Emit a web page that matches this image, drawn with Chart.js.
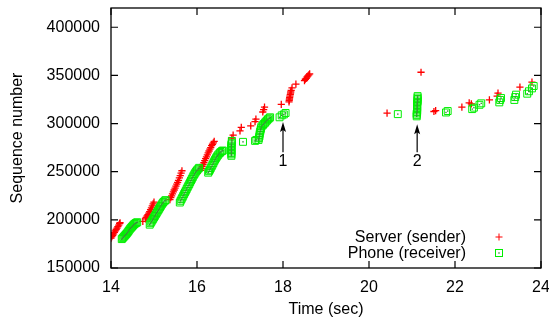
<!DOCTYPE html>
<html><head><meta charset="utf-8">
<script src="https://cdn.jsdelivr.net/npm/chart.js@4/dist/chart.umd.min.js"></script>
<style>html,body{margin:0;padding:0;background:#fff}</style>
</head><body>
<canvas id="c" width="549" height="322"></canvas>
<script>
// ---- data ----
const serverT = [14.00,14.02,14.04,14.06,14.08,14.10,14.12,14.14,14.16,14.18,14.20,14.21,
  14.74,14.80,14.82,14.84,14.86,14.88,14.90,14.92,14.94,14.96,14.98,15.00,
  15.37,15.39,15.41,15.43,15.45,15.47,15.49,15.51,15.53,15.55,15.57,15.59,15.61,15.63,15.65,
  16.08,16.10,16.12,16.14,16.16,16.18,16.20,16.22,16.24,16.26,16.28,16.30,16.32,16.34,16.36,16.38,16.40,
  16.81,16.84,17.00,17.03,
  17.25,17.35,17.37,
  17.53,17.55,17.57,
  17.96,
  18.14,18.145,18.15,18.155,18.16,18.17,18.175,18.18,18.19,18.21,
  18.30,
  18.50,18.52,18.54,18.56,18.58,18.60,18.62,
  20.42,21.21,21.51,21.55,22.16,22.33,22.38,22.80,22.98,23.00,23.51,23.79];
const serverS = [181000,182500,184000,185500,187000,188500,190000,191500,193000,194500,196000,197000,
  198500,201000,202500,204000,205500,207000,208500,210500,212500,214500,216500,218500,
  221000,223000,225000,227000,229000,231000,233000,235000,237000,239000,241000,243500,246000,248500,251000,
  251500,253500,255500,257500,259500,261500,263500,265500,267500,269500,271500,273500,275000,277000,278500,280000,281500,
  285000,288000,292500,296000,
  297500,302000,304500,
  312000,314500,317000,
  320000,
  322500,324000,325500,327000,328500,330000,331500,333000,334500,337000,
  341000,
  344500,346000,347000,348500,349500,350500,351500,
  310800,353300,312500,313500,317000,321500,320500,324500,328500,331500,337800,343000];

const phoneT = [14.25,14.27,14.29,14.31,14.33,14.35,14.37,14.39,14.41,14.43,14.45,14.47,14.49,14.51,14.53,14.55,14.57,14.59,14.61,
  14.90,14.92,14.94,14.96,14.98,15.00,15.02,15.04,15.06,15.08,15.10,15.12,15.14,15.16,15.18,15.20,15.22,15.25,15.27,
  15.60,15.62,15.64,15.66,15.68,15.70,15.72,15.74,15.76,15.78,15.80,15.82,15.84,15.86,15.88,15.90,15.92,15.94,15.96,15.98,16.00,16.03,16.05,
  16.26,16.28,16.30,16.32,16.34,16.36,16.38,16.40,16.42,16.44,16.46,16.48,16.50,16.53,16.55,16.58,16.60,
  16.80,16.80,16.80,16.80,16.80,16.80,16.80,16.80,16.80,16.81,16.81,
  17.07,
  17.35,17.38,
  17.43,17.44,17.45,17.455,17.46,17.47,17.48,17.49,17.50,17.53,17.55,17.58,17.60,17.63,17.65,17.68,17.70,
  17.92,17.97,18.02,18.06,
  20.67,
  21.11,21.11,21.11,21.12,21.12,21.12,21.12,21.12,21.12,21.12,21.13,21.13,21.13,21.13,21.13,
  21.79,21.83,22.40,22.44,22.57,22.61,23.03,23.05,23.07,23.38,23.40,23.42,23.68,23.72,23.79,23.83];
const phoneS = [180000,181000,182000,183000,184000,185000,186000,187200,188500,189800,191000,192000,193000,194000,195000,195800,196500,197000,197500,
  195000,196500,198000,199500,201000,202500,204000,205500,207000,208500,210000,211500,213000,214500,216000,217300,218500,219800,220500,
  218000,219800,221500,223200,225000,226800,228500,230200,232000,233800,235500,237200,239000,240800,242500,244200,246000,247500,249000,250300,251500,253000,254000,
  249000,250500,252000,253800,255500,257200,259000,260800,262500,264000,265500,266800,268000,269500,270500,271500,272000,
  266500,268000,269500,271000,272500,274000,275500,277000,278500,280000,282000,
  281000,
  282000,283000,
  283000,284800,286500,288200,290000,291800,293500,295200,297000,298300,299500,300800,302000,303300,304500,305500,306500,
  306500,308500,309500,311000,
  309800,
  307500,309000,310500,312000,313500,315000,316500,318000,319500,321000,322500,324000,325500,327000,328500,
  311500,313000,315000,316500,319500,321000,322000,324500,326500,324500,327500,330000,331000,333500,336500,339000];

const xTickValues = [14,16,18,20,22,24];
const yTickValues = [150000,200000,250000,300000,350000,400000];
const xRange = [14,24];
const yRange = [150000,420000];

const arrowLabels = ['1','2'];
const arrowT = [18.0,21.12];
const arrowTipS = [301500,299400];
const arrowTailS = [270300,270300];
const arrowLabelS = [260000,260000];

const seriesNames = ['Server (sender)','Phone (receiver)'];
const RED = '#ff0000', GREEN = '#00ee00';
const FONT = "'Liberation Sans', Arial, Helvetica, sans-serif";

const toPts = (t,s) => t.map((v,i)=>({x:v,y:s[i]}));

function drawCross(ctx,x,y,r){ctx.beginPath();ctx.moveTo(x-r,y);ctx.lineTo(x+r,y);ctx.moveTo(x,y-r);ctx.lineTo(x,y+r);ctx.stroke();}

const deco = {
  id:'deco',
  afterDatasetsDraw(chart){
    const ctx = chart.ctx;
    const meta = chart.getDatasetMeta(1);
    ctx.save();
    ctx.fillStyle = '#3a8a3a';
    meta.data.forEach(p=>{ ctx.fillRect(p.x-0.7,p.y-0.7,1.4,1.4); });
    ctx.restore();
  },
  afterDraw(chart){
    const {ctx, chartArea:a, scales} = chart;
    const xs = scales.x, ys = scales.y;
    ctx.save();
    // frame
    ctx.strokeStyle = '#000'; ctx.lineWidth = 1.3;
    ctx.strokeRect(a.left, a.top, a.right-a.left, a.bottom-a.top);
    // inward ticks
    ctx.beginPath();
    yTickValues.forEach(v=>{ const py = ys.getPixelForValue(v);
      ctx.moveTo(a.left,py); ctx.lineTo(a.left+7,py);
      ctx.moveTo(a.right,py); ctx.lineTo(a.right-7,py); });
    xTickValues.forEach(v=>{ const px = xs.getPixelForValue(v);
      ctx.moveTo(px,a.bottom); ctx.lineTo(px,a.bottom-7);
      ctx.moveTo(px,a.top); ctx.lineTo(px,a.top+7); });
    ctx.lineWidth = 1.2; ctx.stroke();
    // titles
    ctx.fillStyle = '#000';
    ctx.font = '16px ' + FONT;
    ctx.textAlign = 'center'; ctx.textBaseline = 'middle';
    ctx.fillText('Time (sec)', (a.left+a.right)/2, 310);
    ctx.save(); ctx.translate(18,(a.top+a.bottom)/2); ctx.rotate(-Math.PI/2);
    ctx.fillText('Sequence number',0,0); ctx.restore();
    // arrows
    arrowLabels.forEach((lab,i)=>{
      const px = xs.getPixelForValue(arrowT[i]);
      const tip = ys.getPixelForValue(arrowTipS[i]);
      const tail = ys.getPixelForValue(arrowTailS[i]);
      ctx.strokeStyle = '#000'; ctx.lineWidth = 1.2;
      ctx.beginPath(); ctx.moveTo(px,tail); ctx.lineTo(px,tip+4); ctx.stroke();
      ctx.beginPath(); ctx.moveTo(px,tip); ctx.lineTo(px-3,tip+10); ctx.lineTo(px,tip+8); ctx.lineTo(px+3,tip+10); ctx.closePath(); ctx.fillStyle='#000'; ctx.fill();
      ctx.textAlign='center'; ctx.textBaseline='middle';
      ctx.fillText(lab, px, ys.getPixelForValue(arrowLabelS[i]));
    });
    // legend
    ctx.textAlign = 'right'; ctx.textBaseline = 'middle'; ctx.fillStyle = '#000';
    ctx.fillText(seriesNames[0], 466, 238);
    ctx.fillText(seriesNames[1], 466, 254);
    ctx.strokeStyle = RED; ctx.lineWidth = 1;
    drawCross(ctx, 499, 237, 3.5);
    ctx.strokeStyle = GREEN;
    ctx.strokeRect(495.5, 249.5, 7, 7);
    ctx.fillStyle = '#3a8a3a'; ctx.fillRect(498.3,252.3,1.4,1.4);
    ctx.restore();
  }
};

new Chart(document.getElementById('c'), {
  type: 'scatter',
  data: { datasets: [
    { label: seriesNames[0], data: toPts(serverT,serverS), pointStyle:'cross', pointRadius:3.6, pointHoverRadius:3.6,
      borderColor: RED, backgroundColor: RED, pointBorderWidth:1.3, order:1 },
    { label: seriesNames[1], data: toPts(phoneT,phoneS), pointStyle:'rect', pointRadius:4.9, pointHoverRadius:4.9,
      borderColor: GREEN, backgroundColor: 'rgba(0,0,0,0)', pointBorderWidth:1, order:0 }
  ]},
  options: {
    responsive:false, animation:false, devicePixelRatio:1,
    layout:{ padding:{ top:8, right:8, left:0, bottom:0 } },
    plugins:{ legend:{display:false}, tooltip:{enabled:false} },
    events: [],
    scales:{
      x:{ type:'linear', min:xRange[0], max:xRange[1],
        grid:{display:false, drawTicks:false}, border:{display:false},
        afterBuildTicks(s){ s.ticks = xTickValues.map(v=>({value:v})); },
        afterFit(s){ s.height = 54; s.paddingLeft = 0; s.paddingRight = 0; },
        ticks:{ color:'#000', padding:10, maxRotation:0, autoSkip:false, font:{family:FONT,size:16} } },
      y:{ type:'linear', min:yRange[0], max:yRange[1],
        grid:{display:false, drawTicks:false}, border:{display:false},
        afterBuildTicks(s){ s.ticks = yTickValues.map(v=>({value:v})); },
        afterFit(s){ s.width = 111; s.paddingTop = 0; s.paddingBottom = 0; },
        ticks:{ color:'#000', padding:11, autoSkip:false, font:{family:FONT,size:16}, callback:v=>String(v) } }
    }
  },
  plugins:[deco]
});
</script>
</body></html>
